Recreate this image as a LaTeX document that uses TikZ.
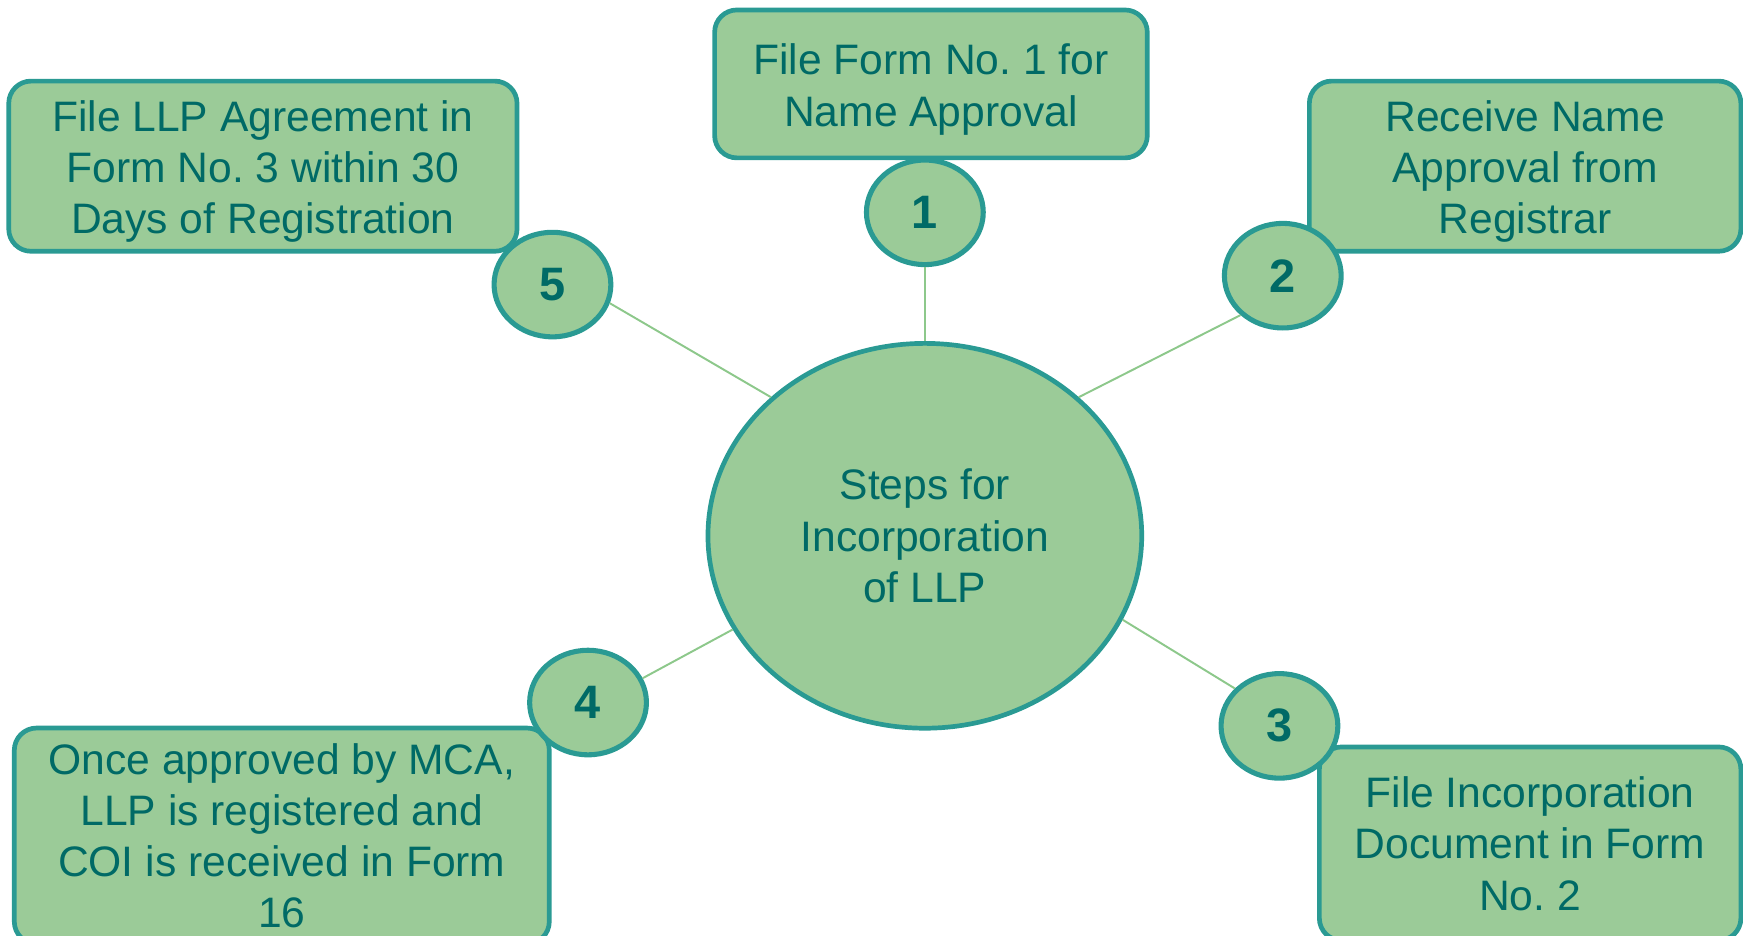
\documentclass[tikz,border=0pt]{standalone}
\usepackage{fontspec}
\setmainfont{Liberation Sans}
\usepackage{xcolor}
\usepackage{tikz}
\usetikzlibrary{
	shapes
}
\definecolor{leaf}{HTML}{9BCB98}
\definecolor{rim}{HTML}{2A9A93}
\definecolor{ink}{HTML}{006A66}
\definecolor{link}{HTML}{8DC88B}
\newcommand{\lift}{\rule{0pt}{10.7pt}}
\frenchspacing

\begin{document}
\begin{tikzpicture}[x=0.01cm,y=-0.01cm,
		stepbox/.style={draw=rim,fill=leaf,line width=1.2pt,rounded corners=0.2cm,
			align=center,text=ink,inner sep=0pt,font=\fontsize{10.9}{13.1}\selectfont},
		badge/.style={ellipse,draw=rim,fill=leaf,line width=1.3pt,inner sep=0pt,
			minimum width=1.05cm,minimum height=0.94cm,text=ink,
			font=\fontsize{12}{14}\selectfont\bfseries}]
		\useasboundingbox (0,0) rectangle (1568,842);
		\clip (0,0) rectangle (1568,842);
		%
		\node[stepbox,minimum width=3.89cm,minimum height=1.33cm] (B1) at (837.5,75.5) {\lift File Form No. 1 for\\Name Approval};
		\node[stepbox,minimum width=3.88cm,minimum height=1.53cm] (B2) at (1372,149.5) {\lift Receive Name\\Approval from\\Registrar};
		\node[stepbox,minimum width=3.79cm,minimum height=1.74cm] (B3) at (1376.5,759) {File Incorporation\\Document in Form\\No. 2};
		\node[stepbox,minimum width=4.81cm,minimum height=1.94cm] (B4) at (253.5,752) {Once approved by MCA,\\LLP is registered and\\COI is received in Form\\16};
		\node[stepbox,minimum width=4.57cm,minimum height=1.53cm] (B5) at (236.5,149.5) {\lift File LLP Agreement in\\Form No. 3 within 30\\Days of Registration};
		%
		\node[ellipse,draw=rim,fill=leaf,line width=1.2pt,minimum width=3.9cm,minimum height=3.46cm,
			align=center,text=ink,font=\fontsize{10.9}{13.1}\selectfont] (S) at (832,482) {Steps for\\Incorporation\\of LLP};
		%
		\node[badge] (C1) at (832,191) {1};
		\node[badge] (C2) at (1154,248) {2};
		\node[badge] (C3) at (1151,653) {3};
		\node[badge] (C4) at (529,632) {4};
		\node[badge] (C5) at (497,256) {5};
		%
		\path[color=link,line width=0.5pt]
			(C1.south) edge (S.north)
			(C2.223) edge (S.42)
			(C3.140) edge (S.337)
			(C4.24) edge (S.206)
			(C5.342) edge (S.138);
	\end{tikzpicture}
\end{document}
